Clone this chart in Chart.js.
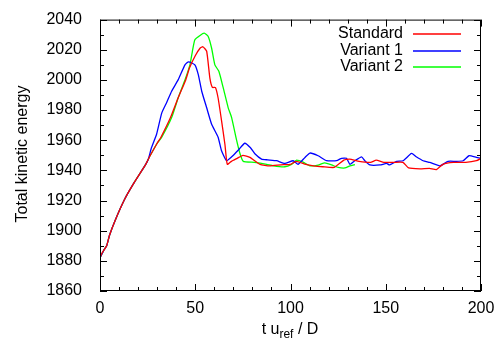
<!DOCTYPE html>
<html>
<head>
<meta charset="utf-8">
<script src="https://cdn.jsdelivr.net/npm/chart.js@4.4.1/dist/chart.umd.min.js"></script>
<style>
  html, body { margin: 0; padding: 0; background: #fff; }
  #wrap { width: 503px; height: 341px; position: relative; }
</style>
</head>
<body>
<div id="wrap"><canvas id="chart"></canvas></div>
<script>
// Series data
const stdX = [0, 1, 2, 3.5, 5, 8, 13, 18, 24, 26, 30, 32, 37, 41, 45, 47, 50, 52.5, 54, 56, 57.7, 59, 60.6, 62, 63.8, 65.6, 66.8, 69, 72, 75, 78.7, 84, 89, 95, 100, 103, 108, 112, 117, 123, 128, 131, 136, 142, 145, 149, 154, 159, 162, 168, 173, 176.6, 180, 185.5, 192, 197.6, 200];
const stdY = [1882, 1885, 1887, 1890, 1897, 1907, 1921, 1932, 1944, 1949, 1958, 1962, 1975, 1988, 2000, 2008, 2016, 2021, 2022, 2019, 2001, 1995, 1995, 1988, 1973, 1957, 1944, 1946, 1948, 1950, 1948.6, 1944, 1943, 1943.7, 1944, 1946, 1944, 1943, 1942.4, 1942, 1946.8, 1947.5, 1946, 1945.3, 1946.8, 1945.3, 1945.3, 1945.3, 1941.6, 1941, 1941.3, 1940.5, 1944, 1945.3, 1945.3, 1946.4, 1948];

const v1X = [0, 2, 3.5, 5, 8, 13, 18, 24, 25.4, 27, 29.7, 32.4, 35, 37.6, 41, 44.6, 46.5, 49.8, 51.6, 53.4, 56, 58.6, 62, 63.8, 66.5, 70, 73, 76, 79, 81.3, 84.8, 88, 92.7, 97, 101.4, 104, 107.6, 110.2, 114.5, 119, 124.2, 126.8, 129.4, 131.2, 133.8, 137.3, 139, 141.7, 147, 150.4, 152, 155.7, 159.1, 163.5, 166, 169.6, 173.1, 178.4, 182.7, 187, 190.6, 193.7, 197.6, 200];
const v1Y = [1882, 1887, 1890, 1897, 1907, 1921, 1932, 1944, 1947.5, 1955, 1964, 1978, 1985, 1992.5, 2000, 2010, 2012, 2010, 2003.5, 1992.5, 1981.5, 1970.6, 1962, 1953, 1946.4, 1950, 1954, 1958, 1955, 1951, 1947.5, 1947, 1946.4, 1944.6, 1946.4, 1944, 1948.6, 1951.5, 1949.7, 1946.4, 1946.4, 1948, 1948, 1944, 1946.4, 1949, 1946.4, 1943.6, 1943.6, 1944.6, 1943.6, 1946, 1946.4, 1951.2, 1949, 1946.4, 1945.3, 1943, 1946, 1946, 1946.4, 1949.7, 1948.6, 1948];

const v2X = [0, 2, 3.5, 5, 8, 13, 18, 24, 26, 30, 32.4, 37.6, 41, 44.6, 47.2, 48.5, 49.8, 52.5, 54.7, 56.8, 58.6, 60.3, 62.4, 64.7, 67.3, 69.1, 71.7, 73.5, 75.2, 81, 87.5, 91, 97, 100.5, 103.2, 106.9, 110.2, 114.5, 118, 121.6, 125, 128.6, 131.2, 133.8];
const v2Y = [1882, 1887, 1890, 1897, 1907, 1921, 1932, 1944, 1949, 1958, 1962, 1975, 1988, 2000, 2010, 2019, 2026.6, 2029.5, 2031, 2028.8, 2021, 2010, 2005.7, 1994.7, 1981.5, 1975, 1960, 1951, 1946, 1945.3, 1944, 1943, 1942.4, 1944, 1946.8, 1945.3, 1943, 1943.5, 1945, 1943.6, 1942, 1941.6, 1943, 1943.8];

const seriesNames = ['Standard', 'Variant 1', 'Variant 2'];
const seriesColors = ['#ff0000', '#0000ff', '#00ff00'];
const xTicks = [0, 50, 100, 150, 200];
const yTicks = [1860, 1880, 1900, 1920, 1940, 1960, 1980, 2000, 2020, 2040];

const FONT = '16px "Liberation Sans", Arial, sans-serif';

function toPoints(xs, ys) {
    return xs.map((x, i) => ({ x: x, y: ys[i] }));
}

// gnuplot-style frame, inward ticks (mirrored), legend and axis titles
const framePlugin = {
    id: 'frame',
    afterDraw(chart) {
        const ctx = chart.ctx;
        const a = chart.chartArea;
        const xs = chart.scales.x, ys = chart.scales.y;
        ctx.save();
        ctx.strokeStyle = '#000';
        ctx.lineWidth = 1;
        ctx.strokeRect(a.left + 0.5, a.top + 0.5, a.right - a.left - 1, a.bottom - a.top - 1);

        ctx.beginPath();
        for (let v = 0; v <= 200; v += 10) {
            const px = Math.round(xs.getPixelForValue(v)) + 0.5;
            const len = v % 50 === 0 ? 7 : 4;
            ctx.moveTo(px, a.bottom); ctx.lineTo(px, a.bottom - len);
            ctx.moveTo(px, a.top); ctx.lineTo(px, a.top + len);
        }
        for (let v = 1860; v <= 2040; v += 10) {
            const py = Math.round(ys.getPixelForValue(v)) + 0.5;
            const len = v % 20 === 0 ? 7 : 4;
            ctx.moveTo(a.left, py); ctx.lineTo(a.left + len, py);
            ctx.moveTo(a.right, py); ctx.lineTo(a.right - len, py);
        }
        ctx.stroke();

        // legend
        ctx.font = FONT;
        ctx.fillStyle = '#000';
        ctx.textAlign = 'right';
        ctx.textBaseline = 'middle';
        ctx.lineWidth = 1.5;
        seriesNames.forEach((name, i) => {
            const y = 34 + i * 16.5;
            ctx.fillText(name, 403, y);
            ctx.strokeStyle = seriesColors[i];
            ctx.beginPath();
            ctx.moveTo(413, Math.round(y));
            ctx.lineTo(461, Math.round(y));
            ctx.stroke();
        });

        // y title
        ctx.save();
        ctx.translate(23, 154);
        ctx.rotate(-Math.PI / 2);
        ctx.textAlign = 'center';
        ctx.fillText('Total kinetic energy', 0, 0);
        ctx.restore();

        // x title with subscript
        ctx.textAlign = 'left';
        ctx.textBaseline = 'alphabetic';
        const part1 = 't u', sub = 'ref', part2 = ' / D';
        ctx.font = FONT;
        const w1 = ctx.measureText(part1).width;
        const w3 = ctx.measureText(part2).width;
        ctx.font = '12px "Liberation Sans", Arial, sans-serif';
        const w2 = ctx.measureText(sub).width;
        let x0 = 290 - (w1 + w2 + w3) / 2;
        const base = 334;
        ctx.font = FONT;
        ctx.fillText(part1, x0, base);
        ctx.font = '12px "Liberation Sans", Arial, sans-serif';
        ctx.fillText(sub, x0 + w1, base + 4);
        ctx.font = FONT;
        ctx.fillText(part2, x0 + w1 + w2, base);
        ctx.restore();
    }
};

const datasets = [stdX, v1X, v2X].map((xs, i) => ({
    label: seriesNames[i],
    data: toPoints(xs, [stdY, v1Y, v2Y][i]),
    borderColor: seriesColors[i],
    borderWidth: 1.3,
    pointRadius: 0,
    tension: 0.15,
    fill: false
}));
datasets[0].order = 1;
datasets[1].order = 2;
datasets[2].order = 3;

const tickFont = { family: '"Liberation Sans", Arial, sans-serif', size: 16 };

new Chart(document.getElementById('chart'), {
    type: 'line',
    data: { datasets: datasets },
    options: {
        responsive: true,
        maintainAspectRatio: false,
        animation: false,
        layout: { padding: { top: 18, right: 22, left: 0, bottom: 0 } },
        plugins: { legend: { display: false }, tooltip: { enabled: false } },
        scales: {
            x: {
                type: 'linear',
                min: 0, max: 200,
                afterFit(scale) { scale.height = 50; },
                afterBuildTicks(scale) { scale.ticks = xTicks.map(v => ({ value: v })); },
                grid: { display: false },
                border: { display: false },
                ticks: { font: tickFont, color: '#000', padding: 0, maxRotation: 0, callback: v => String(v) }
            },
            y: {
                type: 'linear',
                min: 1860, max: 2040,
                afterFit(scale) { scale.width = 100; },
                afterBuildTicks(scale) { scale.ticks = yTicks.map(v => ({ value: v })); },
                grid: { display: false },
                border: { display: false },
                ticks: { font: tickFont, color: '#000', padding: 10, callback: v => String(v) }
            }
        }
    },
    plugins: [framePlugin]
});
</script>
</body>
</html>
